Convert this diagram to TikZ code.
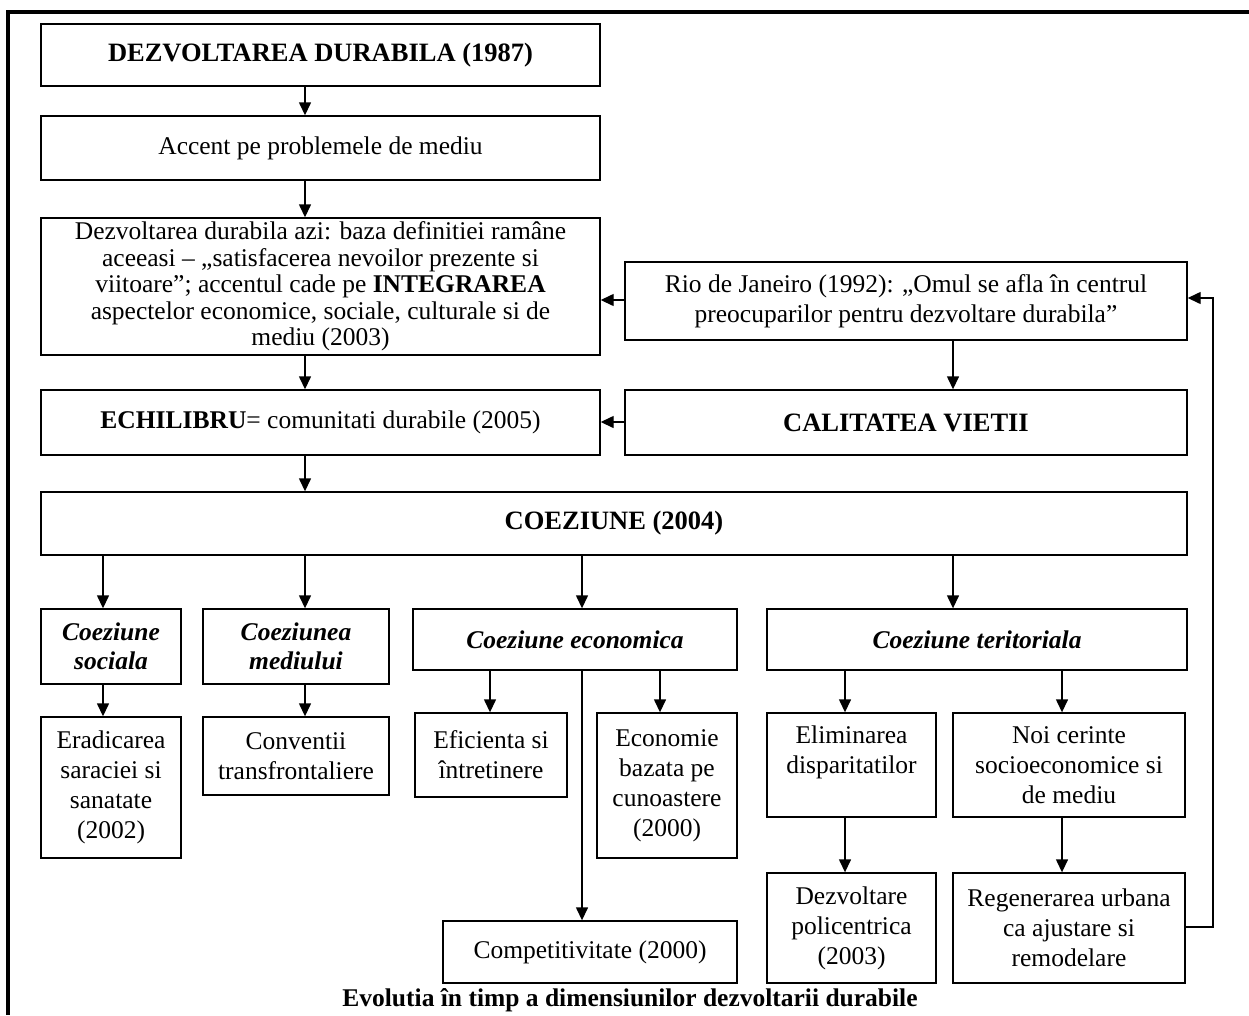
\documentclass[tikz,border=0pt]{standalone}
\usepackage{fontspec}
\setmainfont{Liberation Serif}
\usetikzlibrary{arrows.meta,calc}
\tikzset{
  box/.style={draw, line width=1.4pt, align=center, inner sep=0pt, anchor=center},
  topf/.style={font=\fontsize{25.5}{26.5}\selectfont},
  riof/.style={font=\fontsize{25.5}{30}\selectfont},
  lowf/.style={font=\fontsize{25.5}{30}\selectfont},
  ttl/.style={font=\fontsize{26.5}{30}\selectfont\bfseries},
  itl/.style={font=\fontsize{25.5}{29}\selectfont\bfseries\itshape},
  arr/.style={line width=1.4pt, -{Triangle[length=13pt,width=12pt]}},
  frame/.style={line width=3.5pt}
}
\begin{document}
\begin{tikzpicture}[x=1pt,y=-1pt]
\useasboundingbox (0,0) rectangle (1249,1015);
\draw[frame] (1249,12) -- (8,12) -- (8,1015);

% top column
\node[box,ttl,minimum width=559pt,minimum height=62pt] (b1) at (320.5,55) {DEZVOLTAREA DURABILA (1987)};
\node[box,topf,minimum width=559pt,minimum height=64pt] (b2) at (320.5,148) {Accent pe problemele de mediu};
\node[box,topf,minimum width=559pt,minimum height=137pt] (b3) at (320.5,286.5) {Dezvoltarea durabila azi: baza definitiei ramâne\\aceeasi – „satisfacerea nevoilor prezente si\\viitoare”; accentul cade pe \textbf{INTEGRAREA}\\aspectelor economice, sociale, culturale si de\\mediu (2003)};
\node[box,topf,minimum width=559pt,minimum height=65pt] (b4) at (320.5,422.5) {\textbf{ECHILIBRU}= comunitati durabile (2005)};
\node[box,riof,minimum width=562pt,minimum height=78pt] (rio) at (906,301) {Rio de Janeiro (1992): „Omul se afla în centrul\\preocuparilor pentru dezvoltare durabila”};
\node[box,ttl,minimum width=562pt,minimum height=65pt] (cal) at (906,422.5) {CALITATEA VIETII};
\node[box,ttl,minimum width=1146pt,minimum height=63pt] (coez) at (614,523.5) {COEZIUNE (2004)};

% second tier
\node[box,itl,minimum width=140pt,minimum height=75pt] (soc) at (111,646.5) {Coeziune\\sociala};
\node[box,itl,minimum width=186pt,minimum height=75pt] (med) at (296,646.5) {Coeziunea\\mediului};
\node[box,itl,minimum width=324pt,minimum height=61pt] (eco) at (575,639.5) {Coeziune economica};
\node[box,itl,minimum width=420pt,minimum height=61pt] (ter) at (977,639.5) {Coeziune teritoriala};

% third tier
\node[box,lowf,minimum width=140pt,minimum height=141pt] (erad) at (111,787.5) {Eradicarea\\saraciei si\\sanatate\\(2002)};
\node[box,lowf,minimum width=186pt,minimum height=78pt] (conv) at (296,756) {Conventii\\transfrontaliere};
\node[box,lowf,minimum width=152pt,minimum height=84pt] (efic) at (491,755) {Eficienta si\\întretinere};
\node[box,lowf,minimum width=140pt,minimum height=145pt] (ecbz) at (667,785.5) {Economie\\bazata pe\\cunoastere\\(2000)};
\node[box,lowf,minimum width=294pt,minimum height=62pt] (comp) at (590,952) {Competitivitate (2000)};
\node[box,lowf,minimum width=169pt,minimum height=104pt] (elim) at (851.5,765) {Eliminarea\\disparitatilor\\\mbox{}};
\node[box,lowf,minimum width=232pt,minimum height=104pt] (noi) at (1069,765) {Noi cerinte\\socioeconomice si\\de mediu};
\node[box,lowf,minimum width=169pt,minimum height=110pt] (poli) at (851.5,928) {Dezvoltare\\policentrica\\(2003)};
\node[box,lowf,minimum width=232pt,minimum height=110pt] (regen) at (1069,928) {Regenerarea urbana\\ca ajustare si\\remodelare};

\node[font=\fontsize{25.5}{30}\selectfont\bfseries] (cap) at (630,1000) {Evolutia în timp a dimensiunilor dezvoltarii durabile};

% x positions for arrows
\coordinate (xm) at (305,0);
\coordinate (xs) at (103,0);
\coordinate (xe) at (582,0);
\coordinate (xt) at (953,0);
\coordinate (xef) at (490,0);
\coordinate (xeb) at (660,0);
\coordinate (xel) at (845,0);
\coordinate (xno) at (1062,0);
\coordinate (yr) at (0,300);
\coordinate (yc) at (0,422);
\coordinate (fb) at (0,927);
\coordinate (fbtop) at (1213,298);

\draw[arr] (b1.south -| xm) -- (b2.north -| xm);
\draw[arr] (b2.south -| xm) -- (b3.north -| xm);
\draw[arr] (b3.south -| xm) -- (b4.north -| xm);
\draw[arr] (b4.south -| xm) -- (coez.north -| xm);
\draw[arr] (rio.west |- yr) -- (b3.east |- yr);
\draw[arr] (cal.west |- yc) -- (b4.east |- yc);
\draw[arr] (rio.south -| xt) -- (cal.north -| xt);

\draw[arr] (coez.south -| xs) -- (soc.north -| xs);
\draw[arr] (coez.south -| xm) -- (med.north -| xm);
\draw[arr] (coez.south -| xe) -- (eco.north -| xe);
\draw[arr] (coez.south -| xt) -- (ter.north -| xt);

\draw[arr] (soc.south -| xs) -- (erad.north -| xs);
\draw[arr] (med.south -| xm) -- (conv.north -| xm);
\draw[arr] (eco.south -| xef) -- (efic.north -| xef);
\draw[arr] (eco.south -| xeb) -- (ecbz.north -| xeb);
\draw[arr] (eco.south -| xe) -- (comp.north -| xe);
\draw[arr] (ter.south -| xel) -- (elim.north -| xel);
\draw[arr] (ter.south -| xno) -- (noi.north -| xno);
\draw[arr] (elim.south -| xel) -- (poli.north -| xel);
\draw[arr] (noi.south -| xno) -- (regen.north -| xno);

\draw[arr] (regen.east |- fb) -| (fbtop) -- (rio.east |- fbtop);
\end{tikzpicture}
\end{document}
